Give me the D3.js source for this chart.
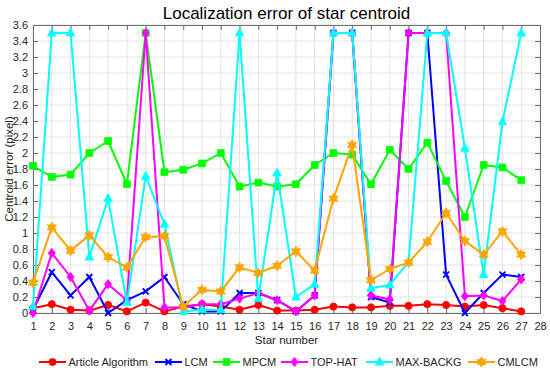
<!DOCTYPE html>
<html><head><meta charset="utf-8">
<script src="https://cdn.jsdelivr.net/npm/d3@7"></script>
<style>body{margin:0;background:#fff}svg{display:block;font-family:"Liberation Sans",Arial,sans-serif}</style>
</head><body><svg id="c" width="550" height="372"></svg>
<script>
const stars = d3.range(1, 28);
const xTicks = d3.range(1, 29);
const yTicks = d3.range(0, 3.61, 0.2).map(v => +v.toFixed(1));
const articleAlgorithm = [0.06,0.11,0.04,0.03,0.10,0.02,0.13,0.02,0.08,0.11,0.08,0.04,0.10,0.03,0.03,0.04,0.08,0.07,0.07,0.09,0.09,0.11,0.10,0.08,0.10,0.06,0.02];
const lcm = [0.04,0.51,0.22,0.45,0.00,0.16,0.27,0.45,0.11,0.02,0.02,0.25,0.25,0.16,0.02,0.22,3.5,3.5,0.20,0.13,3.5,3.5,0.48,0.00,0.25,0.48,0.45];
const mpcm = [1.84,1.70,1.73,2.00,2.15,1.61,3.5,1.76,1.79,1.87,2.00,1.58,1.63,1.58,1.61,1.85,2.00,1.98,1.61,2.04,1.80,2.13,1.65,1.20,1.85,1.82,1.66];
const topHat = [0.00,0.75,0.45,0.03,0.36,0.16,3.5,0.07,0.07,0.11,0.11,0.18,0.25,0.16,0.02,0.22,3.5,3.5,0.22,0.17,3.5,3.5,3.5,0.21,0.22,0.15,0.42];
const maxBackg = [0.08,3.5,3.5,0.70,1.43,0.13,1.71,1.11,0.02,0.04,0.04,3.5,0.18,1.75,0.20,0.36,3.5,3.5,0.31,0.35,0.64,3.5,3.5,2.06,0.48,2.39,3.5];
const cmlcm = [0.38,1.07,0.78,0.97,0.70,0.57,0.95,0.96,0.08,0.29,0.27,0.57,0.50,0.59,0.77,0.53,1.43,2.10,0.41,0.55,0.63,0.89,1.25,0.90,0.73,1.02,0.73];

const seriesNames = ["Article Algorithm","LCM","MPCM","TOP-HAT","MAX-BACKG","CMLCM"];
const seriesValues = [articleAlgorithm, lcm, mpcm, topHat, maxBackg, cmlcm];
const colors = ["#ff0000","#0000ff","#00ff00","#ff00ff","#00ffff","#ffa500"];
const markers = ["circle","x","square","diamond","triangle","hexagram"];

const svg = d3.select("#c");
const L = 33, R = 540, T = 25, B = 313;
const x = d3.scaleLinear().domain([1, 28]).range([L, R]);
const y = d3.scaleLinear().domain([0, 3.6]).range([B, T]);

// grid
svg.append("g").selectAll("line").data(xTicks).join("line")
  .attr("x1", d => x(d)).attr("x2", d => x(d)).attr("y1", T).attr("y2", B)
  .attr("stroke", "#e3e3e3").attr("stroke-width", 1);
svg.append("g").selectAll("line").data(yTicks).join("line")
  .attr("y1", d => y(d)).attr("y2", d => y(d)).attr("x1", L).attr("x2", R)
  .attr("stroke", "#e3e3e3").attr("stroke-width", 1);

// axes
const fmt = d => d3.format("~g")(d);
const xAxis = svg.append("g").attr("transform", `translate(0,${B})`)
  .call(d3.axisBottom(x).tickValues(xTicks).tickSize(-5).tickPadding(9).tickFormat(fmt));
const yAxis = svg.append("g").attr("transform", `translate(${L},0)`)
  .call(d3.axisLeft(y).tickValues(yTicks).tickSize(-5).tickPadding(5).tickFormat(fmt));
const xTop = svg.append("g").attr("transform", `translate(0,${T})`)
  .call(d3.axisTop(x).tickValues(xTicks).tickSize(-5).tickFormat(""));
const yRight = svg.append("g").attr("transform", `translate(${R},0)`)
  .call(d3.axisRight(y).tickValues(yTicks).tickSize(-5).tickFormat(""));
[xAxis, yAxis, xTop, yRight].forEach(g => {
  g.selectAll("path,line").attr("stroke", "#6e6e6e");
  g.selectAll("text").attr("fill", "#262626").style("font-size", "11px").style("font-family", "'Liberation Sans',Arial,sans-serif");
});

// markers
function markerPath(type) {
  const p = d3.path();
  if (type === "circle") { p.arc(0, 0, 3.6, 0, 2 * Math.PI); }
  else if (type === "square") { p.rect(-3.4, -3.4, 6.8, 6.8); }
  else if (type === "diamond") { p.moveTo(0, -4.6); p.lineTo(3.6, 0); p.lineTo(0, 4.6); p.lineTo(-3.6, 0); p.closePath(); }
  else if (type === "triangle") { p.moveTo(0, -4.8); p.lineTo(4.3, 3); p.lineTo(-4.3, 3); p.closePath(); }
  else if (type === "hexagram") {
    for (let i = 0; i < 12; i++) {
      const r = i % 2 === 0 ? 5.2 : 2.9, a = -Math.PI / 2 + i * Math.PI / 6;
      if (i === 0) p.moveTo(r * Math.cos(a), r * Math.sin(a)); else p.lineTo(r * Math.cos(a), r * Math.sin(a));
    }
    p.closePath();
  }
  else if (type === "x") { p.moveTo(-3, -3); p.lineTo(3, 3); p.moveTo(-3, 3); p.lineTo(3, -3); }
  return p.toString();
}
function drawMarker(g, type, cx, cy, color) {
  const el = g.append("path").attr("d", markerPath(type)).attr("transform", `translate(${cx},${cy})`);
  if (type === "x") el.attr("fill", "none").attr("stroke", color).attr("stroke-width", 1.8);
  else el.attr("fill", color).attr("stroke", color).attr("stroke-width", 0.8);
}
const line = d3.line().x((d, i) => x(stars[i])).y(d => y(d));
seriesValues.forEach((vals, k) => {
  const g = svg.append("g");
  g.append("path").datum(vals).attr("d", line).attr("fill", "none")
    .attr("stroke", colors[k]).attr("stroke-width", 2).attr("stroke-linejoin", "round");
  vals.forEach((v, i) => drawMarker(g, markers[k], x(stars[i]), y(v), colors[k]));
});

// title & labels
svg.append("text").attr("x", (L + R) / 2).attr("y", 19).attr("text-anchor", "middle")
  .style("font-size", "17px").attr("fill", "#000").text("Localization error of star centroid");
svg.append("text").attr("x", (L + R) / 2).attr("y", 344).attr("text-anchor", "middle")
  .style("font-size", "11.5px").attr("fill", "#262626").text("Star number");
svg.append("text").attr("transform", `translate(13,${(T + B) / 2}) rotate(-90)`).attr("text-anchor", "middle")
  .style("font-size", "11.5px").attr("fill", "#262626").text("Centroid error (pixel)");

// legend
const legendX = [39, 155, 213, 281, 366, 468];
const lg = svg.append("g");
const ly = 362;
seriesNames.forEach((name, k) => {
  const lx = legendX[k];
  lg.append("line").attr("x1", lx).attr("x2", lx + 27).attr("y1", ly).attr("y2", ly)
    .attr("stroke", colors[k]).attr("stroke-width", 2);
  drawMarker(lg, markers[k], lx + 13.5, ly, colors[k]);
  lg.append("text").attr("x", lx + 29.5).attr("y", ly + 4)
    .style("font-size", "11px").attr("fill", "#262626").text(name);
});
</script></body></html>
